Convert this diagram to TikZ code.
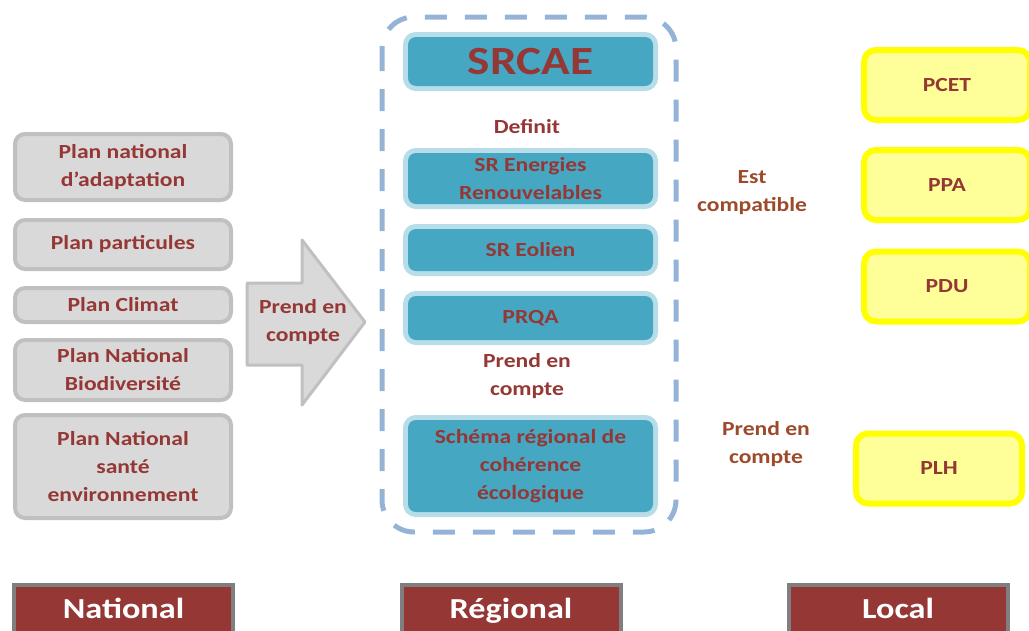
\documentclass[tikz,border=0pt]{standalone}
\usepackage{fontspec}
\setmainfont{Carlito}[FakeStretch=1.18]
\definecolor{txtred}{HTML}{953735}
\definecolor{txtbrown}{HTML}{9C4A2A}
\definecolor{grayfill}{HTML}{D9D9D9}
\definecolor{grayline}{HTML}{C0C0C0}
\definecolor{tealfill}{HTML}{45A7C2}
\definecolor{tealglow}{HTML}{B7DEE8}
\definecolor{dashblue}{HTML}{95B3D7}
\definecolor{yelfill}{HTML}{FFFF99}
\definecolor{yelline}{HTML}{FFFF00}
\definecolor{barred}{HTML}{953735}
\definecolor{bargray}{HTML}{7F7F7F}
\tikzset{
  lbl/.style={font=\bfseries\fontsize{20}{28}\selectfont, text=txtred, align=center, inner sep=0pt},
  graybox/.style={draw=grayline, line width=4pt, fill=grayfill, rounded corners=10pt,
    minimum width=216pt, inner sep=0pt, lbl},
  tealbox/.style={fill=tealfill, rounded corners=8pt, minimum width=245pt, inner sep=0pt,
    preaction={draw=tealglow, line width=10pt, rounded corners=10pt}, lbl},
  yelbox/.style={draw=yelline, fill=yelfill, line width=6pt, rounded corners=12pt,
    minimum width=166pt, minimum height=70pt, inner sep=0pt, lbl},
  barbox/.style={draw=bargray, fill=barred, line width=4pt, minimum width=219pt,
    minimum height=52pt, inner sep=0pt, anchor=north, text height=20pt, text depth=6pt,
    font=\bfseries\fontsize{29}{32}\selectfont, text=white},
  sidelbl/.style={lbl, text=txtbrown},
}
\begin{document}
\begin{tikzpicture}[x=1pt,y=-1pt]
\useasboundingbox (0,0) rectangle (1029,630);
\clip (0,0) rectangle (1029,630);

% National column
\node[graybox, minimum height=66pt] (n1) at (123,167) {Plan national\\d’adaptation};
\node[graybox, minimum height=49pt] (n2) at (123,244.5) {Plan particules};
\node[graybox, minimum height=34pt] (n3) at (123,305) {Plan Climat};
\node[graybox, minimum height=60pt] (n4) at (123,370) {Plan National\\Biodiversité};
\node[graybox, minimum height=103pt] (n5) at (123,466.5) {Plan National\\santé\\environnement};

% Arrow
\draw[draw=grayline, fill=grayfill, line width=3pt, line join=round]
  (247,283) -- (302,283) -- (302,240) -- (365,322) -- (302,405) -- (302,365) -- (247,365) -- cycle;
\node[lbl] (arrowlbl) at (303,322) {Prend en\\compte};

% Regional dashed frame
\draw[dashblue, line width=5pt, dash pattern=on 22pt off 18pt, rounded corners=32pt]
  (382,17) rectangle (676,532);

\node[tealbox, minimum height=49pt, font=\bfseries\fontsize{40}{44}\selectfont] (srcae) at (530.5,61.5) {SRCAE};
\node[lbl] (definit) at (527,127) {Definit};
\node[tealbox, minimum height=51pt] (sre) at (530.5,178.5) {SR Energies\\Renouvelables};
\node[tealbox, minimum height=42pt] (sreol) at (530.5,250) {SR Eolien};
\node[tealbox, minimum height=44pt] (prqa) at (530.5,318) {PRQA};
\node[lbl] (prend2) at (527,376) {Prend en\\compte};
\node[tealbox, minimum height=92pt] (srce) at (530.5,466) {Schéma régional de\\cohérence\\écologique};

% Local column
\node[sidelbl] (estc) at (752,193) {Est\\compatible};
\node[sidelbl] (prend3) at (766,444) {Prend en\\compte};
\node[yelbox] (pcet) at (947,85) {PCET};
\node[yelbox] (ppa) at (947,185) {PPA};
\node[yelbox] (pdu) at (947,286.5) {PDU};
\node[yelbox] (plh) at (939,468.5) {PLH};

% Bottom bars
\node[barbox] (nat) at (123.5,583) {National};
\node[barbox] (reg) at (511,583) {Régional};
\node[barbox] (loc) at (898,583) {Local};
\end{tikzpicture}
\end{document}
